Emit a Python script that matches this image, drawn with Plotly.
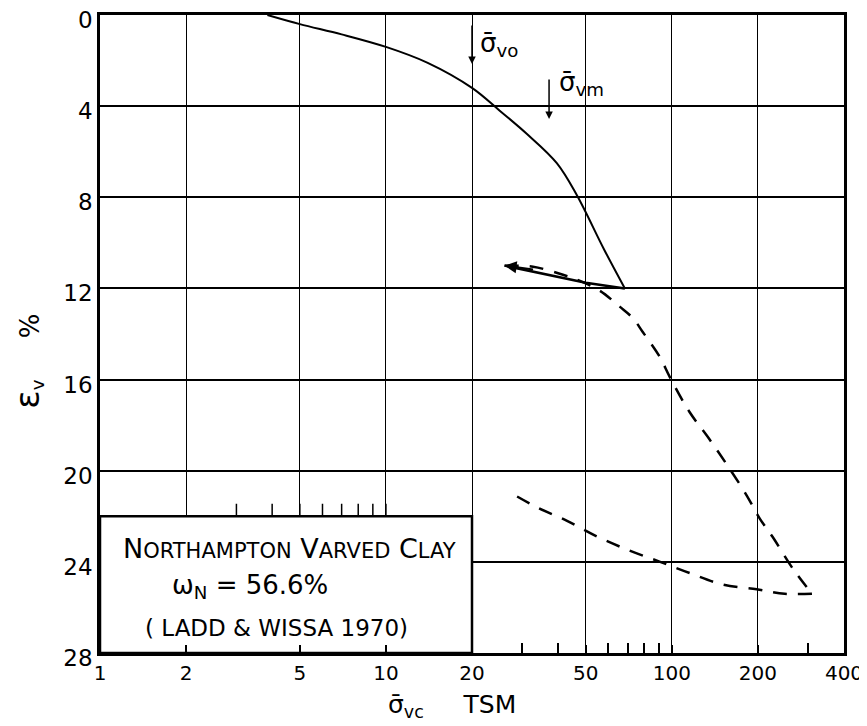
import math
import plotly.graph_objects as go

# ---- data ----
x_tickvals = [1, 2, 5, 10, 20, 50, 100, 200, 400]
x_ticktext = ["1", "2", "5", "10", "20", "50", "100", "200", "400"]
x_minor_bottom = [30, 40, 60, 70, 80, 90, 300]
x_minor_box = [3, 4, 5, 6, 7, 8, 9, 10]
y_tickvals = [0, 4, 8, 12, 16, 20, 24, 28]

# solid first loading curve
load_x = [3.85, 5, 7, 10, 14, 20, 25, 31, 39.6, 46.5, 58, 68.5]
load_y = [0.0, 0.4, 0.85, 1.4, 2.1, 3.2, 4.2, 5.2, 6.5, 7.9, 10.3, 12.0]
# solid rebound (unloading) branch
rebound_x = [68.5, 50, 26]
rebound_y = [12.0, 11.75, 11.0]
# dashed reloading curve
reload_x = [26, 32.7, 41.6, 48.3, 56, 65.7, 73, 79, 90.7, 98.5, 115, 135, 159, 183, 203, 225, 265, 309]
reload_y = [11.0, 11.05, 11.4, 11.7, 12.1, 12.8, 13.3, 13.9, 15.0, 15.9, 17.4, 18.6, 19.9, 21.1, 22.1, 22.9, 24.3, 25.4]
# dashed final unloading curve
unload_x = [309, 248, 198, 151, 116, 91, 71, 55, 43, 33.7, 26.7]
unload_y = [25.4, 25.4, 25.2, 25.0, 24.5, 24.0, 23.5, 22.9, 22.2, 21.6, 20.9]

# legend box extent
box_x = [1, 20]
box_y = [22, 28]

# stress markers
svo_x, svo_y = 20, 2.15
svm_x, svm_y = 37.2, 4.56

FONT = "DejaVu Sans"
fig = go.Figure()

# legend box (white, covers grid)
fig.add_trace(go.Scatter(
    x=[box_x[0], box_x[1], box_x[1], box_x[0], box_x[0]],
    y=[box_y[0], box_y[0], box_y[1], box_y[1], box_y[0]],
    mode="lines", fill="toself", fillcolor="white",
    line=dict(color="black", width=2.5), hoverinfo="skip", showlegend=False))

# small ticks on top of the box
tx, ty = [], []
for v in x_minor_box:
    tx += [v, v, None]
    ty += [box_y[0], box_y[0] - 0.55, None]
fig.add_trace(go.Scatter(x=tx, y=ty, mode="lines", line=dict(color="black", width=1.5),
                         hoverinfo="skip", showlegend=False))

fig.add_trace(go.Scatter(x=load_x, y=load_y, mode="lines", line=dict(color="black", width=2),
                         line_shape="spline", showlegend=False))
fig.add_trace(go.Scatter(x=rebound_x, y=rebound_y, mode="lines", line=dict(color="black", width=2.5),
                         showlegend=False))
fig.add_trace(go.Scatter(x=reload_x, y=reload_y, mode="lines",
                         line=dict(color="black", width=2.5, dash="14px,11px"),
                         line_shape="spline", showlegend=False))
fig.add_trace(go.Scatter(x=unload_x, y=unload_y, mode="lines",
                         line=dict(color="black", width=2.5, dash="14px,11px"),
                         line_shape="spline", showlegend=False))

ann = []
# arrowhead on rebound
ann.append(dict(x=math.log10(rebound_x[-1]), y=rebound_y[-1], xref="x", yref="y",
                ax=30, ay=4, text="", showarrow=True, arrowhead=2, arrowsize=1.2,
                arrowwidth=2, arrowcolor="black"))
# sigma_vo arrow and label
ann.append(dict(x=math.log10(svo_x), y=svo_y, xref="x", yref="y", ax=0, ay=-40,
                text="", showarrow=True, arrowhead=2, arrowsize=1, arrowwidth=1.5, arrowcolor="black"))
ann.append(dict(x=math.log10(21.0), y=1.3, xref="x", yref="y", xanchor="left", yanchor="middle",
                text="σ̄<sub>vo</sub>", showarrow=False, font=dict(size=26, family=FONT, color="black")))
ann.append(dict(x=math.log10(svm_x), y=svm_y, xref="x", yref="y", ax=0, ay=-41,
                text="", showarrow=True, arrowhead=2, arrowsize=1, arrowwidth=1.5, arrowcolor="black"))
ann.append(dict(x=math.log10(39.5), y=3.0, xref="x", yref="y", xanchor="left", yanchor="middle",
                text="σ̄<sub>vm</sub>", showarrow=False, font=dict(size=26, family=FONT, color="black")))

# box text
sc = "<span style='font-size:21px'>%s</span>"
ann.append(dict(x=0.075, y=23.4, xref="x", yref="y", xanchor="left", yanchor="middle", showarrow=False,
                text="N" + sc % "ORTHAMPTON" + " V" + sc % "ARVED" + " C" + sc % "LAY",
                font=dict(size=27, family=FONT, color="black")))
ann.append(dict(x=0.245, y=25.1, xref="x", yref="y", xanchor="left", yanchor="middle", showarrow=False,
                text="ω<sub>N</sub> = 56.6%", font=dict(size=26, family=FONT, color="black")))
ann.append(dict(x=0.15, y=26.9, xref="x", yref="y", xanchor="left", yanchor="middle", showarrow=False,
                text="( LADD & WISSA 1970)", font=dict(size=23, family=FONT, color="black")))

# axis titles
ann.append(dict(x=-0.097, y=0.458, xref="paper", yref="paper", textangle=-90, showarrow=False,
                xanchor="center", yanchor="middle",
                text="<span style='font-size:34px'>ε</span><sub>v</sub>     %",
                font=dict(size=26, family=FONT, color="black")))
ann.append(dict(x=0.473, y=-0.083, xref="paper", yref="paper", showarrow=False,
                xanchor="center", yanchor="middle",
                text="σ̄<sub>vc</sub>     TSM", font=dict(size=25, family=FONT, color="black")))

# the page body adds an 8px offset: shrink the figure so the plot area lands where the reference has it
fig.update_layout(
    width=859, height=719,
    margin=dict(l=92, r=23, t=7, b=74, autoexpand=False),
    paper_bgcolor="white", plot_bgcolor="white",
    annotations=ann, showlegend=False,
    xaxis=dict(type="log", range=[0, math.log10(400)], tickvals=x_tickvals, ticktext=x_ticktext,
               automargin=False, ticklabeloverflow="allow",
               showgrid=True, gridcolor="black", gridwidth=1,
               ticks="inside", ticklen=8, tickcolor="black", tickwidth=1.5,
               minor=dict(tickvals=x_minor_bottom, ticks="inside", ticklen=10, tickcolor="black",
                          tickwidth=1.5, showgrid=False),
               showline=True, linecolor="black", linewidth=2.5, mirror=True, zeroline=False,
               tickfont=dict(size=20, family=FONT, color="black")),
    yaxis=dict(range=[28, 0], tickvals=y_tickvals, automargin=False, ticklabeloverflow="allow",
               ticklabelshift=-5,
               showgrid=True, gridcolor="black", gridwidth=2,
               showline=True, linecolor="black", linewidth=2.5, mirror=True, zeroline=False,
               ticks="", tickfont=dict(size=23, family=FONT, color="black")),
)

fig.write_html("out.html")
